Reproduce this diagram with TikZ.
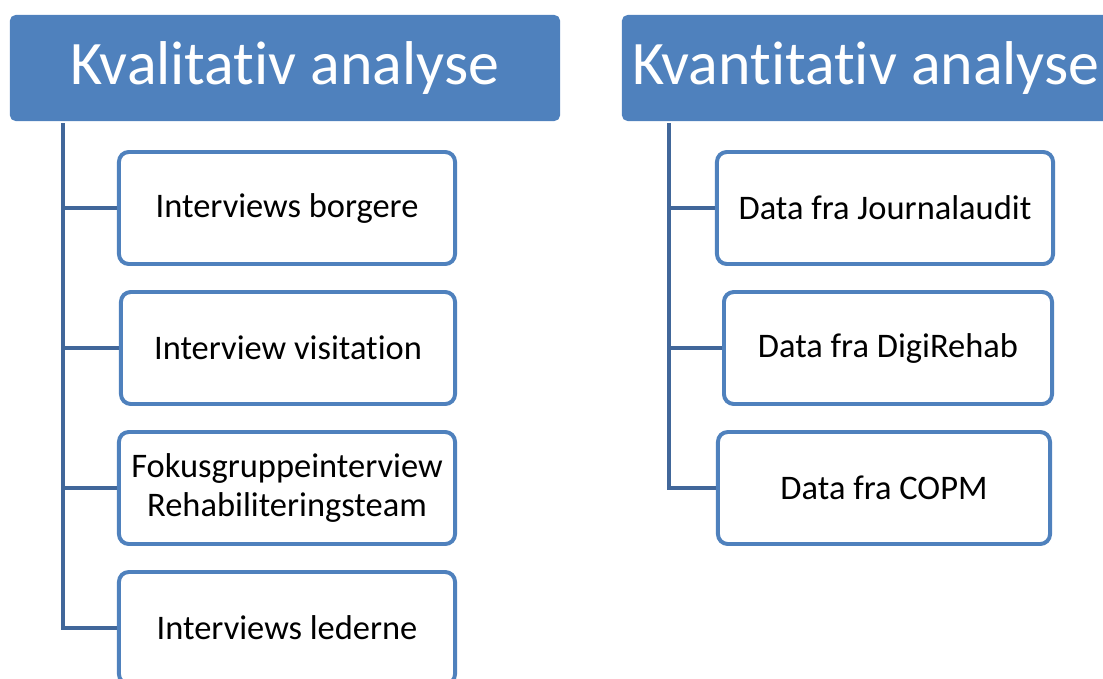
\documentclass[tikz,border=0pt]{standalone}
\usepackage{fontspec}
\setmainfont[Ligatures=NoCommon]{Carlito}
\usetikzlibrary{positioning}
\definecolor{hdblue}{HTML}{4F81BD}
\definecolor{lnblue}{HTML}{41679A}
\tikzset{
    header/.style = {rectangle, rounded corners=4pt, fill=hdblue, text=white,
        minimum height=2.65cm, font=\fontsize{44}{48}\selectfont},
    item/.style = {rectangle, rounded corners=7pt, draw=hdblue, line width=2.8pt, fill=white,
        minimum width=8.4cm, minimum height=2.8cm, align=center,
        font=\fontsize{24.5}{27.5}\selectfont},
    branch/.style = {draw=lnblue, line width=3.3pt},
}

\begin{document}
\begin{tikzpicture}[x=0.025cm,y=-0.025cm]
\useasboundingbox (0,0) rectangle (1103,678);
\clip (0,0) rectangle (1103,678);
%
\node[header, minimum width=13.75cm] at (285, 68) (kval) {Kvalitativ analyse};
\node[header, minimum width=12.2cm] at (866, 68) (kvan) {Kvantitativ analyse};
%
\node[item] at (287, 208) (ib) {Interviews borgere};
\node[item, minimum width=8.35cm] at (288, 348) (iv) {Interview visitation};
\node[item] at (287, 488) (fg) {Fokusgruppeinterview\\Rehabiliteringsteam};
\node[item] at (287, 628) (il) {Interviews lederne};
%
\node[item] at (885, 208) (dj) {Data fra Journalaudit};
\node[item, minimum width=8.2cm] at (888, 348) (dd) {Data fra DigiRehab};
\node[item, minimum width=8.3cm] at (884, 488) (dc) {Data fra COPM};
%
\coordinate (kt) at (63, 123);
\coordinate (vt) at (669, 123);
%
\draw[branch] (kt) |- (il.west);
\draw[branch] (kt |- ib.west) -- (ib.west);
\draw[branch] (kt |- iv.west) -- (iv.west);
\draw[branch] (kt |- fg.west) -- (fg.west);
\draw[branch] (vt) |- (dc.west);
\draw[branch] (vt |- dj.west) -- (dj.west);
\draw[branch] (vt |- dd.west) -- (dd.west);

\end{tikzpicture}
\end{document}
